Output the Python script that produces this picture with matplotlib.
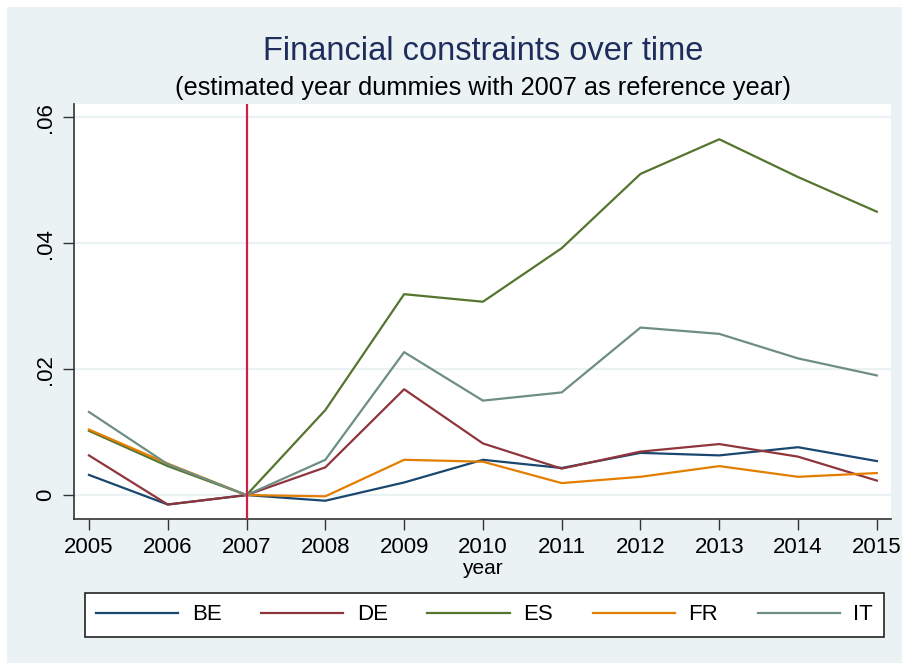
import matplotlib
matplotlib.use("Agg")
import matplotlib.pyplot as plt
from matplotlib.patches import Rectangle

plt.rcParams['font.family'] = ['Liberation Sans', 'DejaVu Sans']

# data
years = [2005, 2006, 2007, 2008, 2009, 2010, 2011, 2012, 2013, 2014, 2015]
be = [0.0032, -0.0015, 0.0, -0.0009, 0.0020, 0.0056, 0.0043, 0.0067, 0.0063, 0.0076, 0.0054]
de = [0.0063, -0.0015, 0.0, 0.0044, 0.0168, 0.0082, 0.0042, 0.0069, 0.0081, 0.0061, 0.0023]
es = [0.0102, 0.0046, 0.0, 0.0135, 0.0319, 0.0307, 0.0392, 0.0510, 0.0565, 0.0505, 0.0450]
fr = [0.0104, 0.0050, 0.0, -0.0002, 0.0056, 0.0053, 0.0019, 0.0029, 0.0046, 0.0029, 0.0035]
it = [0.0132, 0.0049, 0.0, 0.0056, 0.0227, 0.0150, 0.0163, 0.0266, 0.0256, 0.0217, 0.0190]
yticks = [0, 0.02, 0.04, 0.06]
ytick_labels = ['0', '.02', '.04', '.06']

W, H = 902, 663
fig = plt.figure(figsize=(W / 100, H / 100), dpi=100, facecolor='white')
# stata style background panel
fig.patches.append(Rectangle((7 / W, 0), 1 - 7 / W, 1 - 7 / H, transform=fig.transFigure,
                             facecolor='#eaf2f3', edgecolor='none', zorder=-10))

ax = fig.add_axes([74 / W, (H - 519) / H, (891 - 74) / W, (519 - 104) / H])
ax.set_facecolor('white')

series = [('BE', be, '#1a476f'), ('DE', de, '#90353b'), ('ES', es, '#55752f'),
          ('FR', fr, '#e37e00'), ('IT', it, '#6e8e84')]
for name, vals, col in series:
    ax.plot(years, vals, color=col, lw=1.6, label=name, zorder=3)

ax.axvline(2007, color='#cc1f4e', lw=1.6, zorder=4)

ax.set_xlim(2004.81, 2015.18)
ax.set_ylim(-0.0038, 0.0621)
ax.set_xticks(years)
ax.set_xticklabels([str(y) for y in years], fontsize=16)
ax.set_yticks(yticks)
ax.set_yticklabels(ytick_labels, fontsize=16, rotation=90, va='center')
ax.grid(axis='y', color='#eaf2f3', lw=1.6, zorder=1)
ax.set_axisbelow(True)
ax.tick_params(direction='out', length=8, width=1, color='#333333', pad=5)
for s in ['top', 'right']:
    ax.spines[s].set_visible(False)
for s in ['left', 'bottom']:
    ax.spines[s].set_color('#333333')
    ax.spines[s].set_linewidth(1.2)
ax.set_xlabel('year', fontsize=15, labelpad=1)

fig.text(483 / W, 1 - 51 / H, 'Financial constraints over time', ha='center', va='center',
         fontsize=23.5, color='#1f2d5c')
fig.text(483 / W, 1 - 88 / H, '(estimated year dummies with 2007 as reference year)',
         ha='center', va='center', fontsize=18.3, color='black')

leg = fig.legend(loc='center', ncol=5, mode='expand',
                 bbox_to_anchor=(85 / W, (H - 636) / H, (884 - 85) / W, 42 / H),
                 borderaxespad=0, fontsize=16, handlelength=3.7, handletextpad=0.6,
                 frameon=True, fancybox=False, framealpha=1, borderpad=0.5)
leg.get_frame().set_edgecolor('#222222')
leg.get_frame().set_facecolor('white')
leg.get_frame().set_linewidth(1.2)

fig.savefig('out.png', dpi=100, facecolor=fig.get_facecolor())
